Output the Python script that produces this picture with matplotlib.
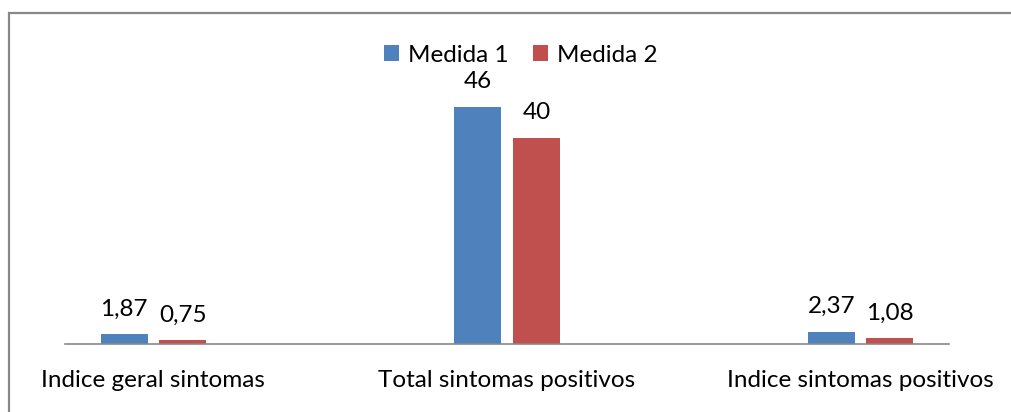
import matplotlib
matplotlib.use("Agg")
import matplotlib.pyplot as plt
from matplotlib.patches import Rectangle, Patch
import numpy as np

categories = ["Indice geral sintomas", "Total sintomas positivos", "Indice sintomas positivos"]
series_names = ["Medida 1", "Medida 2"]
medida1 = [1.87, 46, 2.37]
medida2 = [0.75, 40, 1.08]
labels1 = ["1,87", "46", "2,37"]
labels2 = ["0,75", "40", "1,08"]

colors = ["#4F81BD", "#C0504D"]
FONT = "Lato"
FS = 17.5

W, H = 1012, 412
fig = plt.figure(figsize=(W / 100, H / 100), dpi=100)
fig.patch.set_facecolor("white")

# outer frame (only top/left visible)
fig.patches.append(Rectangle((8.5 / W, -0.1), 1.2, (H - 12.5) / H + 0.1,
                             transform=fig.transFigure, fill=False,
                             edgecolor="#888888", linewidth=1.6))

ax_l, ax_r = 65, 949
ax_bottom = 344
ax = fig.add_axes([ax_l / W, (H - ax_bottom) / H, (ax_r - ax_l) / W, 257.5 / H])
ax.set_xlim(-0.25, 2.25)
ax.set_ylim(0, 50)

x = np.arange(len(categories))
bw = 0.133
off = 0.083
b1 = ax.bar(x - off, medida1, bw, color=colors[0], label=series_names[0])
b2 = ax.bar(x + off, medida2, bw, color=colors[1], label=series_names[1])

for bars, labs in ((b1, labels1), (b2, labels2)):
    for rect, lab in zip(bars, labs):
        ax.annotate(lab, (rect.get_x() + rect.get_width() / 2, rect.get_height()),
                    xytext=(0, 13.5), textcoords="offset points",
                    ha="center", va="baseline", fontsize=FS, family=FONT,
                    color="black")

for s in ["top", "right", "left"]:
    ax.spines[s].set_visible(False)
ax.spines["bottom"].set_color("#878787")
ax.spines["bottom"].set_linewidth(1.2)
ax.set_yticks([])
ax.set_xticks(x)
ax.set_xticklabels(categories, fontsize=FS, family=FONT)
ax.tick_params(axis="x", length=0, pad=18.5)

handles = [Patch(facecolor=c, edgecolor="none") for c in colors]
fig.legend(handles, series_names, loc="center", bbox_to_anchor=(521 / W, (H - 55) / H),
           ncol=2, frameon=False, prop={"family": FONT, "size": FS},
           handlelength=0.6, handleheight=0.6, handletextpad=0.4,
           columnspacing=1.0, borderpad=0)

fig.savefig("out.png", dpi=100, facecolor="white")
